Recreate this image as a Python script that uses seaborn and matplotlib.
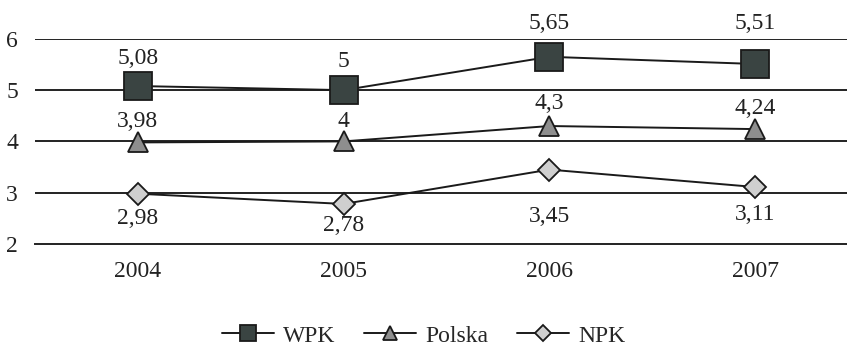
import numpy as np
import pandas as pd
import seaborn as sns
import matplotlib.pyplot as plt
from matplotlib.lines import Line2D

years = ["2004", "2005", "2006", "2007"]
wpk = [5.08, 5.0, 5.65, 5.51]
polska = [3.98, 4.0, 4.3, 4.24]
npk = [2.98, 2.78, 3.45, 3.11]
wpk_labels = ["5,08", "5", "5,65", "5,51"]
polska_labels = ["3,98", "4", "4,3", "4,24"]
npk_labels = ["2,98", "2,78", "3,45", "3,11"]

sns.set_style("white")
plt.rcParams['font.family'] = ['Liberation Serif', 'DejaVu Serif']
fs = 17
plt.rcParams['font.size'] = fs
ink = "#222222"

fig = plt.figure(figsize=(8.47, 3.47), dpi=100)
ax = fig.add_axes([0.041, 0.297, 0.965, 0.591])

x = np.arange(len(years))

# series: (name, values, labels, marker, size, color, label offsets in px, legend marker size)
series = [
    ("WPK", wpk, wpk_labels, "s", 20, "#3a4442", [28, 29, 33, 40], 12),
    ("Polska", polska, polska_labels, "^", 14, "#8e8e8e", [21, 20, 23, 21], 10),
    ("NPK", npk, npk_labels, "D", 11, "#cfcfcf", [-25, -22, -47, -27], 8),
]

handles = []
for name, vals, labs, mk, ms, col, offs, lms in series:
    df = pd.DataFrame({"x": x, "y": vals})
    sns.lineplot(data=df, x="x", y="y", ax=ax, color="#1a1a1a", linewidth=1.4,
                 marker=mk, markersize=ms, markerfacecolor=col,
                 markeredgecolor="#1a1a1a", markeredgewidth=1.3,
                 clip_on=False, zorder=3, legend=False)
    for xi, v, t, off in zip(x, vals, labs, offs):
        ax.annotate(t, (xi, v), xytext=(0, off * 0.72), textcoords="offset points",
                    ha="center", va="center", color=ink, fontsize=fs)
    handles.append(Line2D([], [], color="#1a1a1a", linewidth=1.4, marker=mk,
                          markersize=lms, markerfacecolor=col,
                          markeredgecolor="#1a1a1a", markeredgewidth=1.3, label=name))

ax.set_xlim(-0.5, 3.47)
ax.set_ylim(2, 6)
ax.set_yticks([2, 3, 4, 5, 6])
ax.set_xticks(x)
ax.set_xticklabels(years)
ax.set_xlabel("")
ax.set_ylabel("")
for yv in [3, 4, 5, 6]:
    ax.axhline(yv, color=ink, linewidth=1.4, zorder=1)

for s in ["top", "right", "left"]:
    ax.spines[s].set_visible(False)
ax.spines["bottom"].set_color(ink)
ax.spines["bottom"].set_linewidth(1.4)

# category boundary ticks on the x-axis
ax.set_xticks([-0.5, 0.5, 1.5, 2.5], minor=True)
ax.tick_params(axis="x", which="major", length=0, pad=12, colors=ink)
ax.tick_params(axis="x", which="minor", length=5, width=1.3, direction="out", color=ink)
ax.tick_params(axis="y", length=0, pad=12, colors=ink)

ax.legend(handles=handles, loc="center", bbox_to_anchor=(0.5, 0.032),
          bbox_transform=fig.transFigure, ncol=3, frameon=False,
          handlelength=2.2, columnspacing=1.2, handletextpad=0.4, fontsize=fs)

fig.savefig("out.png", dpi=100)
